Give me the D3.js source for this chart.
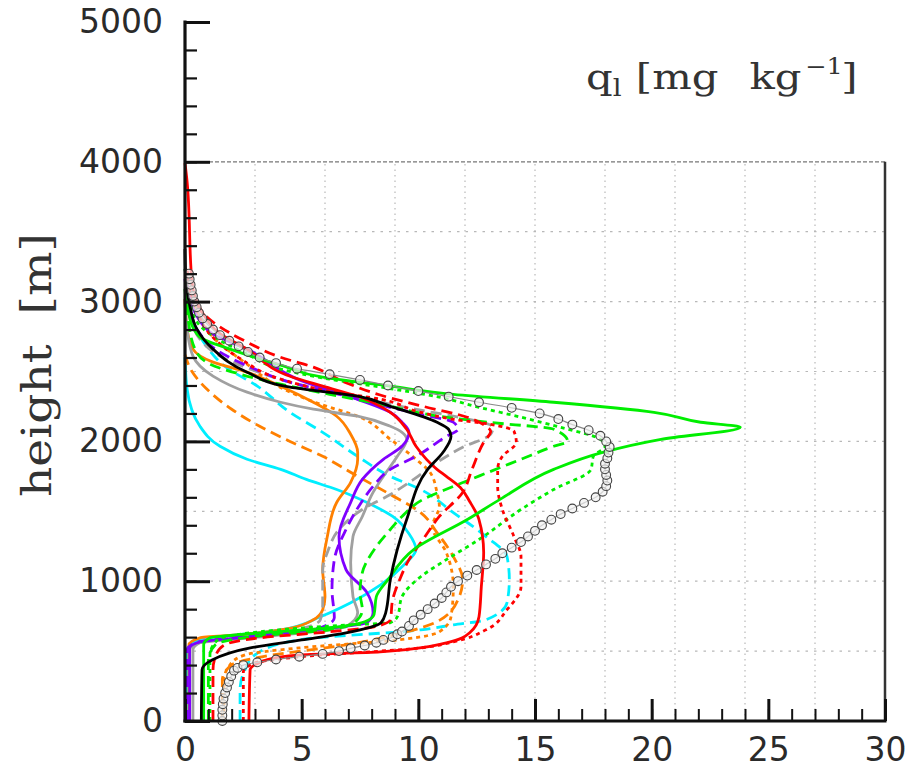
<!DOCTYPE html>
<html>
<head>
<meta charset="utf-8">
<script src="https://cdn.jsdelivr.net/npm/d3@7"></script>
<style>
  html, body { margin: 0; padding: 0; background: #fff; }
  svg { display: block; }
</style>
</head>
<body>
<svg id="chart" width="908" height="774"></svg>
<script>
// Liquid water profiles q_l(z): each series is a list of [q_l (mg/kg), height (m)]
const xTicks = [0, 5, 10, 15, 20, 25, 30];
const yTicks = [0, 1000, 2000, 3000, 4000, 5000];

const blackSolid = [[0.7,0],[0.73,366],[1.16,437],[2.8,523],[5.0,580],[6.9,631],[8.4,703],[8.6,774],[8.8,1011],[9.5,1441],[10.4,1800],[11.06,1922],[11.4,2036],[11.3,2086],[10.8,2137],[8.8,2251],[7.4,2323],[4.5,2388],[2.66,2495],[1.2,2660],[0.51,2803],[0.21,2968],[0.04,3162],[0,3377]];

const redSolid = [[2.74,0],[2.79,366],[3.17,416],[3.86,452],[5.0,473],[8.36,495],[11.2,559],[12.2,631],[12.6,746],[12.7,961],[12.8,1205],[12.6,1441],[12.2,1570],[11.8,1670],[11.2,1750],[10.8,1800],[9.9,1965],[9.5,2087],[8.8,2208],[7.4,2323],[5.9,2395],[4.5,2466],[2.66,2660],[1.5,2770],[0.73,2925],[0.3,3140],[0.09,3857],[0,3990]];

const redDashed = [[1.2,0],[1.2,366],[1.33,473],[1.7,545],[3.2,595],[6.2,638],[8.1,674],[8.8,724],[8.9,868],[9.2,1011],[9.6,1154],[10.2,1298],[10.9,1463],[11.9,1635],[12.3,1800],[12.8,1993],[13.1,2072],[12.9,2108],[12.1,2173],[10.2,2251],[8.4,2330],[6.9,2420],[5.5,2531],[4.07,2603],[2.66,2710],[1.2,2854],[0.34,3019],[0.04,3234]];

const redDotted = [[2.5,0],[2.5,351],[3.0,416],[4.9,459],[10.1,523],[11.5,566],[12.9,652],[13.8,796],[14.4,961],[14.4,1176],[14.1,1319],[13.6,1513],[13.4,1678],[13.4,1800],[13.6,1893],[14.2,1993],[14.1,2072],[13.1,2122],[11.5,2158],[10.1,2208],[8.4,2301],[6.2,2359],[4.1,2445],[2.4,2588],[1.07,2767],[0.43,2982],[0.08,3234]];

const greenSolid = [[0.8,0],[0.8,545],[1.07,595],[2.8,624],[6.2,667],[7.7,710],[8.1,760],[8.2,889],[8.7,1011],[9.8,1226],[12.1,1441],[13.5,1585],[15.8,1800],[17.9,1922],[20.4,2015],[23.8,2101],[22.1,2137],[20.1,2208],[15.8,2280],[11.5,2337],[8.8,2395],[5.9,2459],[4.1,2545],[1.93,2660],[0.64,2746],[0.21,2875],[0.04,3090]];

const greenDashed = [[1.0,0],[1.0,437],[1.3,545],[3.2,609],[6.2,652],[7.3,710],[7.6,796],[7.5,918],[7.6,1061],[8.2,1248],[8.8,1370],[9.3,1463],[10.2,1585],[11.5,1678],[13.0,1779],[14.4,1872],[15.8,1965],[16.4,2000],[15.8,2087],[13.0,2137],[10.9,2180],[8.4,2266],[6.2,2337],[4.1,2409],[2.36,2481],[1.07,2553],[0.43,2660],[0.13,2875],[0,3090]];

const greenDotted = [[1.07,0],[1.07,473],[1.4,581],[3.2,638],[7.1,688],[8.8,703],[9.1,746],[9.3,889],[10.1,1032],[11.2,1154],[12.6,1298],[14.4,1513],[15.8,1656],[17.4,1800],[17.5,1893],[18.0,1965],[17.8,2015],[16.1,2101],[14.4,2173],[12.6,2244],[10.9,2316],[8.4,2388],[6.2,2445],[4.1,2517],[2.66,2624],[1.2,2753],[0.51,2854],[0.17,3019],[0,3234]];

const cyanSolid = [[0.1,0],[0.1,509],[0.6,581],[4.1,652],[5.8,746],[7.1,846],[8.4,975],[9.4,1119],[9.9,1226],[9.6,1340],[8.9,1463],[7.8,1563],[6.5,1656],[5.2,1728],[4.1,1800],[2.66,1872],[1.5,1965],[0.64,2108],[0.09,2373],[0,2600]];

const cyanDashed = [[2.36,0],[2.36,222],[2.57,366],[3.0,473],[4.9,581],[10.1,652],[11.5,688],[12.9,724],[13.8,846],[13.9,1011],[13.8,1176],[12.9,1319],[11.5,1491],[10.1,1656],[8.8,1750],[7.4,1893],[5.9,2065],[4.5,2208],[3.1,2395],[1.7,2538],[0.86,2696],[0.3,2875],[0.04,3090]];

const orangeSolid = [[0.17,0],[0.17,545],[0.64,595],[2.4,617],[4.1,652],[5.5,724],[5.9,796],[6.0,889],[5.9,1083],[6.1,1320],[6.5,1563],[7.1,1707],[7.4,1872],[7.4,1922],[7.1,2051],[6.5,2180],[5.5,2280],[4.1,2395],[2.66,2495],[1.2,2567],[0.34,2660],[0.09,2803],[0,3019]];

const orangeDashed = [[1.6,0],[1.6,294],[2.0,402],[3.3,459],[6.9,545],[9.5,638],[10.8,710],[11.7,868],[11.9,1011],[11.5,1176],[10.8,1348],[10.1,1491],[8.8,1620],[7.4,1750],[5.9,1893],[4.5,2000],[3.2,2108],[2.0,2230],[0.9,2380],[0.3,2500],[0,2620]];

const orangeDotted = [[1.67,0],[1.67,294],[1.93,402],[2.57,473],[4.9,523],[9.2,581],[10.9,638],[11.4,746],[11.5,961],[11.2,1205],[10.6,1391],[10.9,1535],[10.8,1635],[10.5,1779],[9.9,1872],[8.8,2015],[7.4,2180],[5.8,2266],[4.07,2388],[2.66,2553],[1.2,2746],[0.64,2889],[0.21,3054],[0.04,3234]];

const purpleSolid = [[0.2,0],[0.2,523],[0.64,566],[2.8,602],[5.5,652],[7.8,703],[8.06,774],[7.8,918],[6.9,1083],[6.6,1320],[7.1,1563],[7.6,1728],[8.5,1872],[9.3,1965],[9.6,2065],[9.3,2137],[8.8,2208],[7.4,2301],[4.9,2440],[2.66,2660],[1.2,2767],[0.51,2896],[0.17,3054],[0,3234]];

const purpleDashed = [[0.1,0],[0.1,509],[0.43,559],[2.8,609],[5.8,667],[6.4,738],[6.3,939],[6.4,1155],[6.9,1370],[7.5,1549],[8.06,1678],[8.8,1800],[9.9,1893],[11.2,2036],[11.7,2087],[11.5,2137],[10.1,2194],[8.8,2244],[6.6,2337],[4.5,2423],[2.8,2531],[1.3,2660],[0.56,2789],[0.17,2982],[0,3162]];

const graySolid = [[0.34,0],[0.34,509],[0.64,559],[2.8,595],[5.4,638],[6.9,674],[7.4,774],[7.2,889],[7.1,1133],[7.2,1320],[7.6,1463],[8.06,1635],[8.5,1750],[9.1,1893],[9.5,2015],[9.3,2065],[8.8,2108],[7.4,2180],[5.5,2230],[4.1,2280],[2.66,2352],[1.2,2467],[0.34,2610],[0.09,2803],[0,3019]];

const grayDashed = [[0.2,0],[0.2,509],[0.64,566],[3.2,609],[5.8,724],[5.9,832],[5.9,961],[5.9,1083],[6.1,1205],[6.6,1370],[7.6,1513],[8.8,1620],[9.8,1728],[10.8,1850],[11.9,1958],[13.1,2051],[13.2,2101],[11.5,2180],[10.1,2223],[8.4,2280],[6.2,2359],[4.5,2423],[2.8,2517],[1.5,2610],[0.64,2732],[0.21,2911],[0,3090]];

// reference profile, one marker per model level
const referenceLevels = [[1.6,0],[1.6,40],[1.6,80],[1.62,120],[1.65,160],[1.72,200],[1.8,240],[1.88,280],[1.98,320],[2.1,360],[2.25,380],[2.5,400],[3.1,420],[3.9,440],[4.9,460],[5.9,480],[6.6,500],[7.1,520],[7.7,540],[8.2,560],[8.5,580],[8.9,600],[9.1,620],[9.3,640],[9.6,680],[9.8,720],[10.1,760],[10.4,800],[10.7,840],[11.0,880],[11.2,920],[11.4,960],[11.7,1000],[12.1,1040],[12.5,1080],[12.9,1120],[13.3,1160],[13.6,1200],[14.0,1240],[14.4,1280],[14.7,1320],[15.0,1360],[15.3,1400],[15.7,1440],[16.1,1480],[16.6,1520],[17.1,1560],[17.6,1600],[17.9,1640],[18.05,1680],[18.1,1720],[18.05,1760],[18.0,1800],[18.0,1840],[18.1,1880],[18.15,1920],[18.2,1960],[18.05,2000],[17.8,2040],[17.3,2080],[16.6,2120],[16.0,2160],[15.2,2200],[14.0,2240],[12.6,2280],[11.3,2320],[10.0,2360],[8.7,2400],[7.5,2440],[6.2,2480],[4.8,2520],[3.9,2560],[3.2,2600],[2.7,2640],[2.3,2680],[1.9,2720],[1.5,2760],[1.2,2800],[0.95,2840],[0.75,2880],[0.6,2920],[0.5,2960],[0.4,3000],[0.34,3040],[0.29,3080],[0.24,3120],[0.2,3160],[0.17,3200]];

const x = d3.scaleLinear().domain([0, 30]).range([185, 885]);
const y = d3.scaleLinear().domain([0, 5000]).range([721, 22]);

const svg = d3.select("#chart");
const TICK_FONT = "'DejaVu Sans', sans-serif";
const SERIF = "'DejaVu Serif', serif";
const INK = "#2a2a2a";

// ---- grid (only inside the 0-4000 m box)
const grid = svg.append("g").attr("class", "grid");
grid.selectAll("line.gx").data(d3.range(3, 30, 3)).join("line")
  .attr("x1", d => x(d)).attr("x2", d => x(d))
  .attr("y1", y(0)).attr("y2", y(4000))
  .attr("stroke", "#b8b8b8").attr("stroke-width", 1.2).attr("stroke-dasharray", "1.5,4");
grid.selectAll("line.gy").data(d3.range(500, 4000, 500)).join("line")
  .attr("x1", x(0)).attr("x2", x(30))
  .attr("y1", d => y(d)).attr("y2", d => y(d))
  .attr("stroke", "#b8b8b8").attr("stroke-width", 1.2).attr("stroke-dasharray", "2.5,6");
grid.append("line")
  .attr("x1", x(0)).attr("x2", x(30)).attr("y1", y(4000)).attr("y2", y(4000))
  .attr("stroke", "#777").attr("stroke-width", 1.3).attr("stroke-dasharray", "4,2");
grid.append("line")
  .attr("x1", x(30)).attr("x2", x(30)).attr("y1", y(4000)).attr("y2", y(0))
  .attr("stroke", "#333").attr("stroke-width", 2.5);

// ---- profiles
const RED = "#ff0000", GREEN = "#00ee00", ORANGE = "#ff8000", CYAN = "#00eeff",
      PURPLE = "#7f00ff", GRAY = "#a0a0a0", BLACK = "#000000";
const DASH = "11,6", DOT = "4,4";

const series = [
  { data: cyanSolid,    color: CYAN,   dash: null },
  { data: cyanDashed,   color: CYAN,   dash: DASH },
  { data: orangeDashed, color: ORANGE, dash: DASH },
  { data: orangeDotted, color: ORANGE, dash: DOT },
  { data: orangeSolid,  color: ORANGE, dash: null },
  { data: graySolid,    color: GRAY,   dash: null },
  { data: grayDashed,   color: GRAY,   dash: DASH },
  { data: purpleSolid,  color: PURPLE, dash: null },
  { data: purpleDashed, color: PURPLE, dash: DASH },
  { data: greenDotted,  color: GREEN,  dash: DOT },
  { data: greenDashed,  color: GREEN,  dash: DASH },
  { data: redDotted,    color: RED,    dash: DOT },
  { data: redDashed,    color: RED,    dash: DASH },
  { data: redSolid,     color: RED,    dash: null },
  { data: greenSolid,   color: GREEN,  dash: null },
  { data: blackSolid,   color: BLACK,  dash: null }
];

const line = d3.line()
  .x(d => x(d[0])).y(d => y(d[1]))
  .curve(d3.curveMonotoneY);

const plot = svg.append("g").attr("class", "profiles");
plot.selectAll("path.profile").data(series).join("path")
  .attr("class", "profile")
  .attr("d", d => line(d.data))
  .attr("fill", "none")
  .attr("stroke", d => d.color)
  .attr("stroke-width", 2.8)
  .attr("stroke-dasharray", d => d.dash)
  .attr("stroke-linejoin", "round");

// reference profile: thin gray line with open circles
plot.append("path")
  .attr("d", line(referenceLevels))
  .attr("fill", "none").attr("stroke", "#888").attr("stroke-width", 1.2);
plot.selectAll("circle.ref").data(referenceLevels).join("circle")
  .attr("class", "ref")
  .attr("cx", d => x(d[0])).attr("cy", d => y(d[1])).attr("r", 4.4)
  .attr("fill", "#f2f2f2").attr("fill-opacity", 0.7)
  .attr("stroke", "#444").attr("stroke-width", 1.1);

// ---- axes
const axL = svg.append("g").attr("transform", `translate(${x(0)},0)`);
axL.call(d3.axisLeft(y).tickValues(d3.range(0, 5001, 200)).tickSize(-12).tickFormat(""))
  .call(g => g.select(".domain").remove())
  .call(g => g.selectAll(".tick line").attr("stroke", "#111").attr("stroke-width", 2.2));
const axL2 = svg.append("g").attr("transform", `translate(${x(0)},0)`);
axL2.call(d3.axisLeft(y).tickValues(yTicks).tickSize(-25).tickPadding(22).tickFormat(d3.format("d")))
  .call(g => g.select(".domain").remove())
  .call(g => g.selectAll(".tick line").attr("stroke", "#111").attr("stroke-width", 3))
  .call(g => g.selectAll(".tick text").attr("font-family", TICK_FONT).attr("font-size", 33).attr("fill", INK));
svg.append("line").attr("x1", x(0)).attr("x2", x(0)).attr("y1", y(5000) - 1.5).attr("y2", y(0) + 1.5)
  .attr("stroke", "#111").attr("stroke-width", 3.2);

const axB = svg.append("g").attr("transform", `translate(0,${y(0)})`);
axB.call(d3.axisBottom(x).tickValues(d3.range(0, 31, 1)).tickSize(-12).tickFormat(""))
  .call(g => g.select(".domain").remove())
  .call(g => g.selectAll(".tick line").attr("stroke", "#111").attr("stroke-width", 2));
const axB2 = svg.append("g").attr("transform", `translate(0,${y(0)})`);
axB2.call(d3.axisBottom(x).tickValues(xTicks).tickSize(-22).tickPadding(17).tickFormat(d3.format("d")))
  .call(g => g.select(".domain").remove())
  .call(g => g.selectAll(".tick line").attr("stroke", "#111").attr("stroke-width", 3))
  .call(g => g.selectAll(".tick text").attr("font-family", TICK_FONT).attr("font-size", 33).attr("fill", INK));
svg.append("line").attr("x1", x(0) - 1.5).attr("x2", x(30) + 1.5).attr("y1", y(0)).attr("y2", y(0))
  .attr("stroke", "#111").attr("stroke-width", 3.2);

// ---- labels
svg.append("text")
  .attr("transform", `translate(51,365) rotate(-90)`)
  .attr("text-anchor", "middle")
  .attr("font-family", SERIF).attr("font-size", 41).attr("fill", "#333")
  .attr("textLength", 264).attr("lengthAdjust", "spacingAndGlyphs")
  .style("white-space", "pre")
  .text("height  [m]");

const title = svg.append("g").attr("transform", "translate(586,89) scale(1.16,1)")
  .append("text")
  .attr("font-family", SERIF).attr("font-size", 36).attr("fill", "#333");
title.append("tspan").attr("x", 0).attr("y", 0).text("q");
title.append("tspan").attr("x", 23).attr("y", 7).attr("font-size", 24).text("l");
title.append("tspan").attr("x", 43).attr("y", 0).text("[mg");
title.append("tspan").attr("x", 141).attr("y", 0).text("kg");
title.append("tspan").attr("x", 189).attr("y", -15).attr("font-size", 22).text("\u22121");
title.append("tspan").attr("x", 220).attr("y", 0).text("]");
</script>
</body>
</html>
